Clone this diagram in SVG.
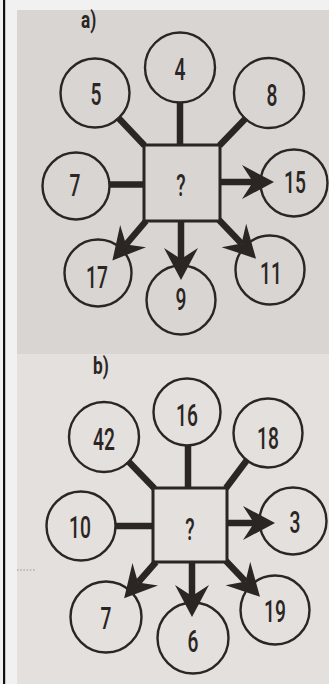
<svg xmlns="http://www.w3.org/2000/svg" width="329" height="684" viewBox="0 0 329 684">
<style>
.c{fill:none;stroke:#2b2523;stroke-width:2.4}
.sq{fill:none;stroke:#2b2523;stroke-width:3}
.ln{stroke:#2b2523;stroke-width:6.5;fill:none}
.ar{stroke:#2b2523;stroke-width:6.5;fill:none;marker-end:url(#ah)}
.num{font-family:Roboto,"Liberation Sans",Arial,sans-serif;font-weight:500;font-size:31px;text-anchor:middle;fill:#2b2523}
.lbl{font-family:Roboto,"Liberation Sans",Arial,sans-serif;font-weight:bold;font-size:23px;fill:#2b2523}
</style>
<defs>
<marker id="ah" markerUnits="userSpaceOnUse" markerWidth="34" markerHeight="36" viewBox="0 0 34 36" refX="11" refY="18" orient="auto">
<path d="M0,1 L32,18 L0,35 L11,18 Z" fill="#2b2523"/>
</marker>
</defs>
<rect width="329" height="684" fill="#f1f1f1"/>
<rect x="3" y="0" width="2.2" height="684" fill="#111"/>
<rect id="panelA" x="17" y="10" width="312" height="344.5" fill="#d8d5d2"/>
<rect id="panelB" x="17" y="354.5" width="312" height="330" fill="#e3e0dd"/>
<line x1="17" y1="570" x2="36" y2="570" stroke="#9a9a9a" stroke-width="1.2" stroke-dasharray="1.6,1.6"/>

<!-- Panel a -->
<text class="lbl" transform="translate(81,28) scale(0.75,1)">a)</text>
<g id="connectors-a">
<line class="ln" x1="118" y1="117.5" x2="144.5" y2="145.5"/>
<line class="ln" x1="180" y1="102" x2="180" y2="145"/>
<line class="ln" x1="246" y1="118" x2="219.5" y2="145.5"/>
<line class="ln" x1="109" y1="184.5" x2="144" y2="184.5"/>
<line class="ar" x1="220" y1="182" x2="253" y2="182"/>
<line class="ar" x1="181" y1="221" x2="181" y2="259"/>
<line class="ar" x1="146" y1="221" x2="126" y2="244.5"/>
<line class="ar" x1="219" y1="220" x2="241.5" y2="243.5"/>
</g>
<g id="a-center"><rect class="sq" x="144" y="145" width="76" height="76"/><text class="num" transform="translate(181,196) scale(0.62,1)">?</text></g>
<g id="a-4"><circle class="c" cx="180" cy="67.5" r="35"/><text class="num" transform="translate(180,79.5) scale(0.62,1)">4</text></g>
<g id="a-5"><circle class="c" cx="95" cy="93" r="34.5"/><text class="num" transform="translate(96,104.5) scale(0.62,1)">5</text></g>
<g id="a-8"><circle class="c" cx="269" cy="93" r="35"/><text class="num" transform="translate(272,105.5) scale(0.62,1)">8</text></g>
<g id="a-7"><circle class="c" cx="76" cy="186" r="33.5"/><text class="num" transform="translate(75,196) scale(0.62,1)">7</text></g>
<g id="a-15"><circle class="c" cx="294" cy="183" r="33.5"/><text class="num" transform="translate(295,193) scale(0.62,1)">15</text></g>
<g id="a-17"><circle class="c" cx="98" cy="273" r="33.5"/><text class="num" transform="translate(97,287.5) scale(0.62,1)">17</text></g>
<g id="a-9"><circle class="c" cx="181" cy="300" r="34.5"/><text class="num" transform="translate(181,310) scale(0.62,1)">9</text></g>
<g id="a-11"><circle class="c" cx="270" cy="270" r="34.5"/><text class="num" transform="translate(271,283.5) scale(0.62,1)">11</text></g>

<!-- Panel b -->
<text class="lbl" transform="translate(93,374) scale(0.75,1)">b)</text>
<g id="connectors-b">
<line class="ln" x1="128" y1="461" x2="154.5" y2="488.5"/>
<line class="ln" x1="188" y1="445" x2="188" y2="488"/>
<line class="ln" x1="247" y1="460" x2="226" y2="488"/>
<line class="ln" x1="115" y1="526" x2="153" y2="526"/>
<line class="ar" x1="227" y1="523" x2="254" y2="523"/>
<line class="ar" x1="192" y1="562" x2="192" y2="596"/>
<line class="ar" x1="156" y1="562" x2="138" y2="582.5"/>
<line class="ar" x1="226" y1="561" x2="245.5" y2="581.5"/>
</g>
<g id="b-center"><rect class="sq" x="153" y="488" width="74" height="74"/><text class="num" transform="translate(190,540) scale(0.62,1)">?</text></g>
<g id="b-16"><circle class="c" cx="187" cy="412" r="33.5"/><text class="num" transform="translate(187,425.5) scale(0.62,1)">16</text></g>
<g id="b-42"><circle class="c" cx="104" cy="437" r="35"/><text class="num" transform="translate(104,450) scale(0.62,1)">42</text></g>
<g id="b-18"><circle class="c" cx="268" cy="433" r="34.5"/><text class="num" transform="translate(268,448.5) scale(0.62,1)">18</text></g>
<g id="b-10"><circle class="c" cx="81" cy="526" r="34.5"/><text class="num" transform="translate(80,538) scale(0.62,1)">10</text></g>
<g id="b-3"><circle class="c" cx="293" cy="521" r="33.5"/><text class="num" transform="translate(295,533) scale(0.62,1)">3</text></g>
<g id="b-7"><circle class="c" cx="106" cy="617" r="35.5"/><text class="num" transform="translate(106,629) scale(0.62,1)">7</text></g>
<g id="b-6"><circle class="c" cx="193" cy="638" r="35.5"/><text class="num" transform="translate(193,652) scale(0.62,1)">6</text></g>
<g id="b-19"><circle class="c" cx="275" cy="610" r="34.5"/><text class="num" transform="translate(275,622) scale(0.62,1)">19</text></g>
</svg>
